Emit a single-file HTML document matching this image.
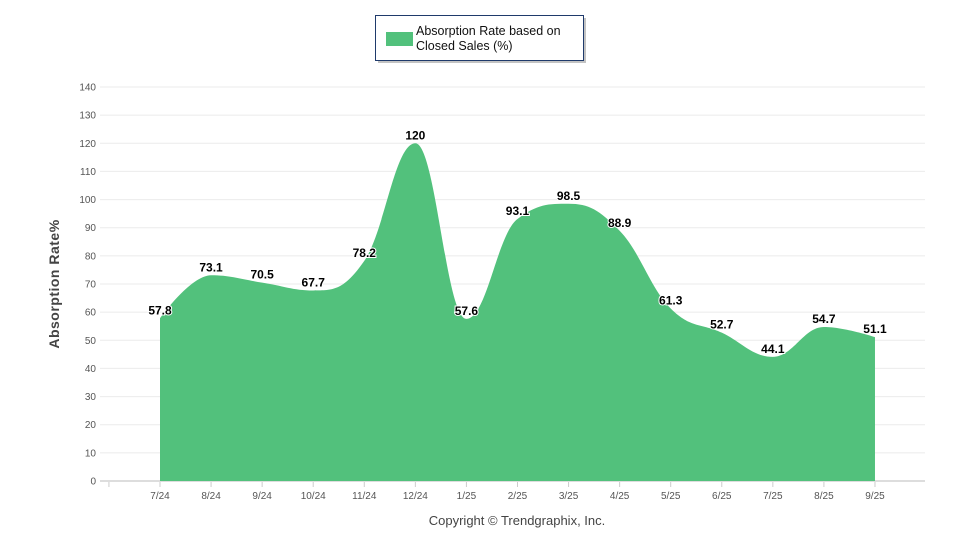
<!DOCTYPE html>
<html><head><meta charset="utf-8"><style>
body{margin:0;background:#fff;font-family:"Liberation Sans",Arial,sans-serif}
</style></head><body>
<svg id="chart" width="960" height="550" xmlns="http://www.w3.org/2000/svg" font-family="Liberation Sans, Arial, sans-serif">
<g id="grid"></g>
<g id="area"></g>
<g id="labels"></g>
<g id="xaxis"></g>
<g id="yaxis"></g>
<text transform="translate(59,284) rotate(-90)" text-anchor="middle" font-size="14" font-weight="bold" fill="#444" letter-spacing="0.5">Absorption Rate%</text>
<text x="517" y="525" text-anchor="middle" font-size="13" fill="#444">Copyright © Trendgraphix, Inc.</text>
<g>
<rect x="378" y="18" width="208" height="45" fill="#888" opacity="0.5"/>
<rect x="375.5" y="15.5" width="208" height="45" fill="#fff" stroke="#1f3a6b" stroke-width="1"/>
<rect x="386" y="32" width="27" height="14" fill="#52c17c"/>
<text x="416" y="35" font-size="12.5" fill="#111">Absorption Rate based on</text>
<text x="416" y="50" font-size="12.5" fill="#111">Closed Sales (%)</text>
</g>
</svg>
<script>
const categories=["7/24","8/24","9/24","10/24","11/24","12/24","1/25","2/25","3/25","4/25","5/25","6/25","7/25","8/25","9/25"];
const values=[57.8,73.1,70.5,67.7,78.2,120,57.6,93.1,98.5,88.9,61.3,52.7,44.1,54.7,51.1];
const yTicks=[0,10,20,30,40,50,60,70,80,90,100,110,120,130,140];
const NS="http://www.w3.org/2000/svg";
const x0=160,bw=51.07,yb=481,yt=87,ymax=140;
const X=i=>x0+bw*i;
const Y=v=>yb-(v/ymax)*(yb-yt);
function mk(t,a,p){const e=document.createElementNS(NS,t);for(const k in a)e.setAttribute(k,a[k]);p.appendChild(e);return e;}
const grid=document.getElementById('grid'),ya=document.getElementById('yaxis'),xa=document.getElementById('xaxis');
yTicks.forEach(v=>{
 const l=mk('line',{x1:100,x2:925,y1:Y(v),y2:Y(v),stroke:v===0?'#ddd':'#ebebeb','stroke-width':v===0?2:1},grid);
 
 
 const t=mk('text',{x:96,y:Y(v)+3.5,'text-anchor':'end','font-size':10,fill:'#555'},ya);
 t.textContent=v;
 
 
});
for(let i=0;i<=categories.length;i++){
 const tx=x0-bw+bw*i;
 const tk=mk('line',{x1:tx,x2:tx,y1:482,y2:487,stroke:'#ccc'},xa);
 
 
}
categories.forEach((c,i)=>{
 const t=mk('text',{x:X(i),y:499,'text-anchor':'middle','font-size':10,fill:'#555'},xa);
 t.textContent=c;
 
 
});
const pts=values.map((v,i)=>[X(i),Y(v)]);
const sm=1.5,den=sm+1;
let d=`M${pts[0][0]},${yb} L${pts[0][0]},${pts[0][1]}`;
function ctrl(i){
 const p=pts[i],pr=pts[i-1],nx=pts[i+1];
 if(!pr||!nx)return [p,p];
 let lx=(sm*p[0]+pr[0])/den,ly=(sm*p[1]+pr[1])/den,rx=(sm*p[0]+nx[0])/den,ry=(sm*p[1]+nx[1])/den;
 let corr=0;if(rx!==lx)corr=((ry-ly)*(rx-p[0]))/(rx-lx)+p[1]-ry;
 ly+=corr;ry+=corr;
 if(ly>pr[1]&&ly>p[1]){ly=Math.max(pr[1],p[1]);ry=2*p[1]-ly;}else if(ly<pr[1]&&ly<p[1]){ly=Math.min(pr[1],p[1]);ry=2*p[1]-ly;}
 if(ry>nx[1]&&ry>p[1]){ry=Math.max(nx[1],p[1]);ly=2*p[1]-ry;}else if(ry<nx[1]&&ry<p[1]){ry=Math.min(nx[1],p[1]);ly=2*p[1]-ry;}
 return [[lx,ly],[rx,ry]];
}
for(let i=1;i<pts.length;i++){
 const a=ctrl(i-1)[1],b=ctrl(i)[0];
 d+=` C${a[0]},${a[1]} ${b[0]},${b[1]} ${pts[i][0]},${pts[i][1]}`;
}
d+=` L${pts[pts.length-1][0]},${yb} Z`;
const ar=mk('path',{d:d,fill:'#52c17c'},document.getElementById('area'));


const lb=document.getElementById('labels');
values.forEach((v,i)=>{
 const t=mk('text',{x:X(i),y:Y(v)-4,'text-anchor':'middle','font-size':12,'font-weight':'bold',fill:'#000',stroke:'#fff','stroke-width':2,'paint-order':'stroke'},lb);
 t.textContent=v;
 
 
});
</script>
</body></html>
